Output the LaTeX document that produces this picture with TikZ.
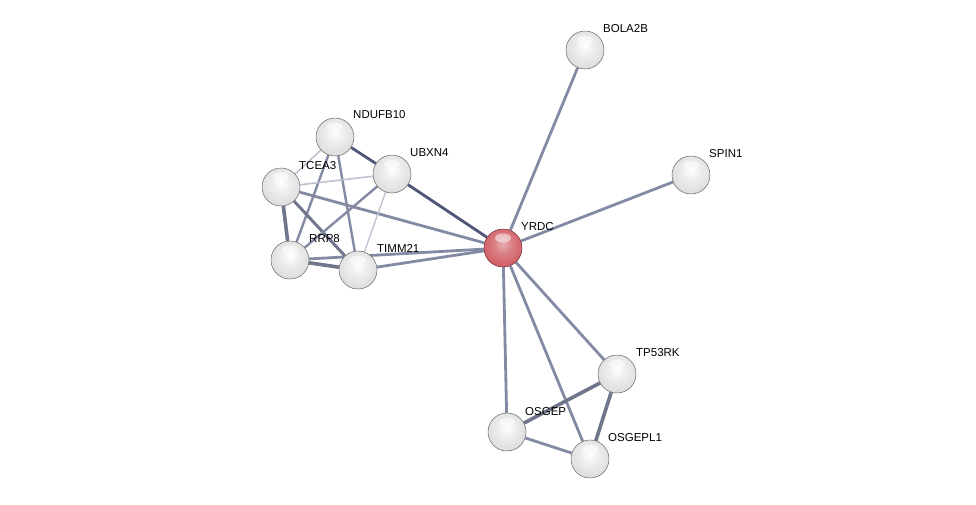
\documentclass[tikz,border=0pt]{standalone}
\usepackage{fontspec}
\setmainfont{Liberation Sans}
\usetikzlibrary{positioning,backgrounds}

\definecolor{edgemid}{HTML}{838AA3}
\definecolor{edgedark}{HTML}{4E5679}
\definecolor{edgelight}{HTML}{BDC1D2}
\definecolor{qred}{HTML}{CC4E55}

\pgfdeclareradialshading{greysphere}{\pgfpoint{0bp}{6bp}}{%
  color(0bp)=(white); color(12bp)=(gray!14); color(28bp)=(gray!27);
  color(40bp)=(gray!36); color(48bp)=(gray!52); color(56bp)=(gray!78)}
\pgfdeclareradialshading{redsphere}{\pgfpoint{0bp}{6bp}}{%
  color(0bp)=(qred!45!white); color(12bp)=(qred!72!white); color(28bp)=(qred!92!white);
  color(40bp)=(qred); color(48bp)=(qred!85!black); color(56bp)=(qred!55!black)}

\begin{document}
\begin{tikzpicture}[x=1pt,y=-1pt,
      prot/.style={circle,draw=gray!80!black,line width=0.5pt,minimum size=38pt,inner sep=0pt,shading=greysphere,
        path picture={\fill[white,opacity=0.5] ([yshift=10pt]path picture bounding box.center) ellipse (8pt and 4.5pt);}},
      query/.style={prot,shading=redsphere,draw=qred!55!black},
      lbl/.style={anchor=base west,inner sep=0pt,font=\fontsize{11.5}{12}\selectfont},
      light/.style={edgelight,line width=1.6pt},
      mid/.style={edgemid,line width=2.8pt},
      heavy/.style={edgemid!85!black,line width=3.6pt},
      dark/.style={edgedark,line width=2.8pt}]
    \useasboundingbox (0,0) rectangle (976,504);
    % proteins
    \node[query] (yrdc) at (503,248) {};
    \node[prot] (bola) at (585,50) {};
    \node[prot] (spin) at (691,175) {};
    \node[prot] (ndufb) at (335,137) {};
    \node[prot] (ubxn) at (392,174) {};
    \node[prot] (tcea) at (281,187) {};
    \node[prot] (rrp) at (290,260) {};
    \node[prot] (timm) at (358,270) {};
    \node[prot] (tp53) at (617,374) {};
    \node[prot] (osgep) at (507,432) {};
    \node[prot] (osgepl) at (590,459) {};
    % labels
    \node[lbl] (yrdcl) at (521,230) {YRDC};
    \node[lbl] (bolal) at (603,32) {BOLA2B};
    \node[lbl] (spinl) at (709,157) {SPIN1};
    \node[lbl] (ndufbl) at (353,118) {NDUFB10};
    \node[lbl] (ubxnl) at (410,156) {UBXN4};
    \node[lbl] (tceal) at (299,169) {TCEA3};
    \node[lbl] (rrpl) at (309,242) {RRP8};
    \node[lbl] (timml) at (377,252) {TIMM21};
    \node[lbl] (tp53l) at (636,356) {TP53RK};
    \node[lbl] (osgepl1) at (525,415) {OSGEP};
    \node[lbl] (osgepll) at (608,441) {OSGEPL1};
    % links
    \begin{scope}[on background layer]
    \draw[mid] (yrdc) -- (bola);
    \draw[mid] (yrdc) -- (spin);
    \draw[dark] (yrdc) -- (ubxn);
    \draw[mid] (yrdc) -- (tcea);
    \draw[mid] (yrdc) -- (rrp);
    \draw[mid] (yrdc) -- (timm);
    \draw[mid] (yrdc) -- (tp53);
    \draw[mid] (yrdc) -- (osgep);
    \draw[mid] (yrdc) -- (osgepl);
    \draw[heavy] (tp53) -- (osgep);
    \draw[heavy] (tp53) -- (osgepl);
    \draw[mid] (osgep) -- (osgepl);
    \draw[dark] (ndufb) -- (ubxn);
    \draw[light] (ndufb) -- (tcea);
    \draw[mid,line width=2.4pt] (ndufb) -- (rrp);
    \draw[mid,line width=2.4pt] (ndufb) -- (timm);
    \draw[light] (tcea) -- (ubxn);
    \draw[heavy] (tcea) -- (rrp);
    \draw[heavy,line width=3pt] (tcea) -- (timm);
    \draw[mid,line width=2.4pt] (ubxn) -- (rrp);
    \draw[light,line width=1.3pt] (ubxn) -- (timm);
    \draw[heavy] (rrp) -- (timm);
    \end{scope}
  \end{tikzpicture}
\end{document}
